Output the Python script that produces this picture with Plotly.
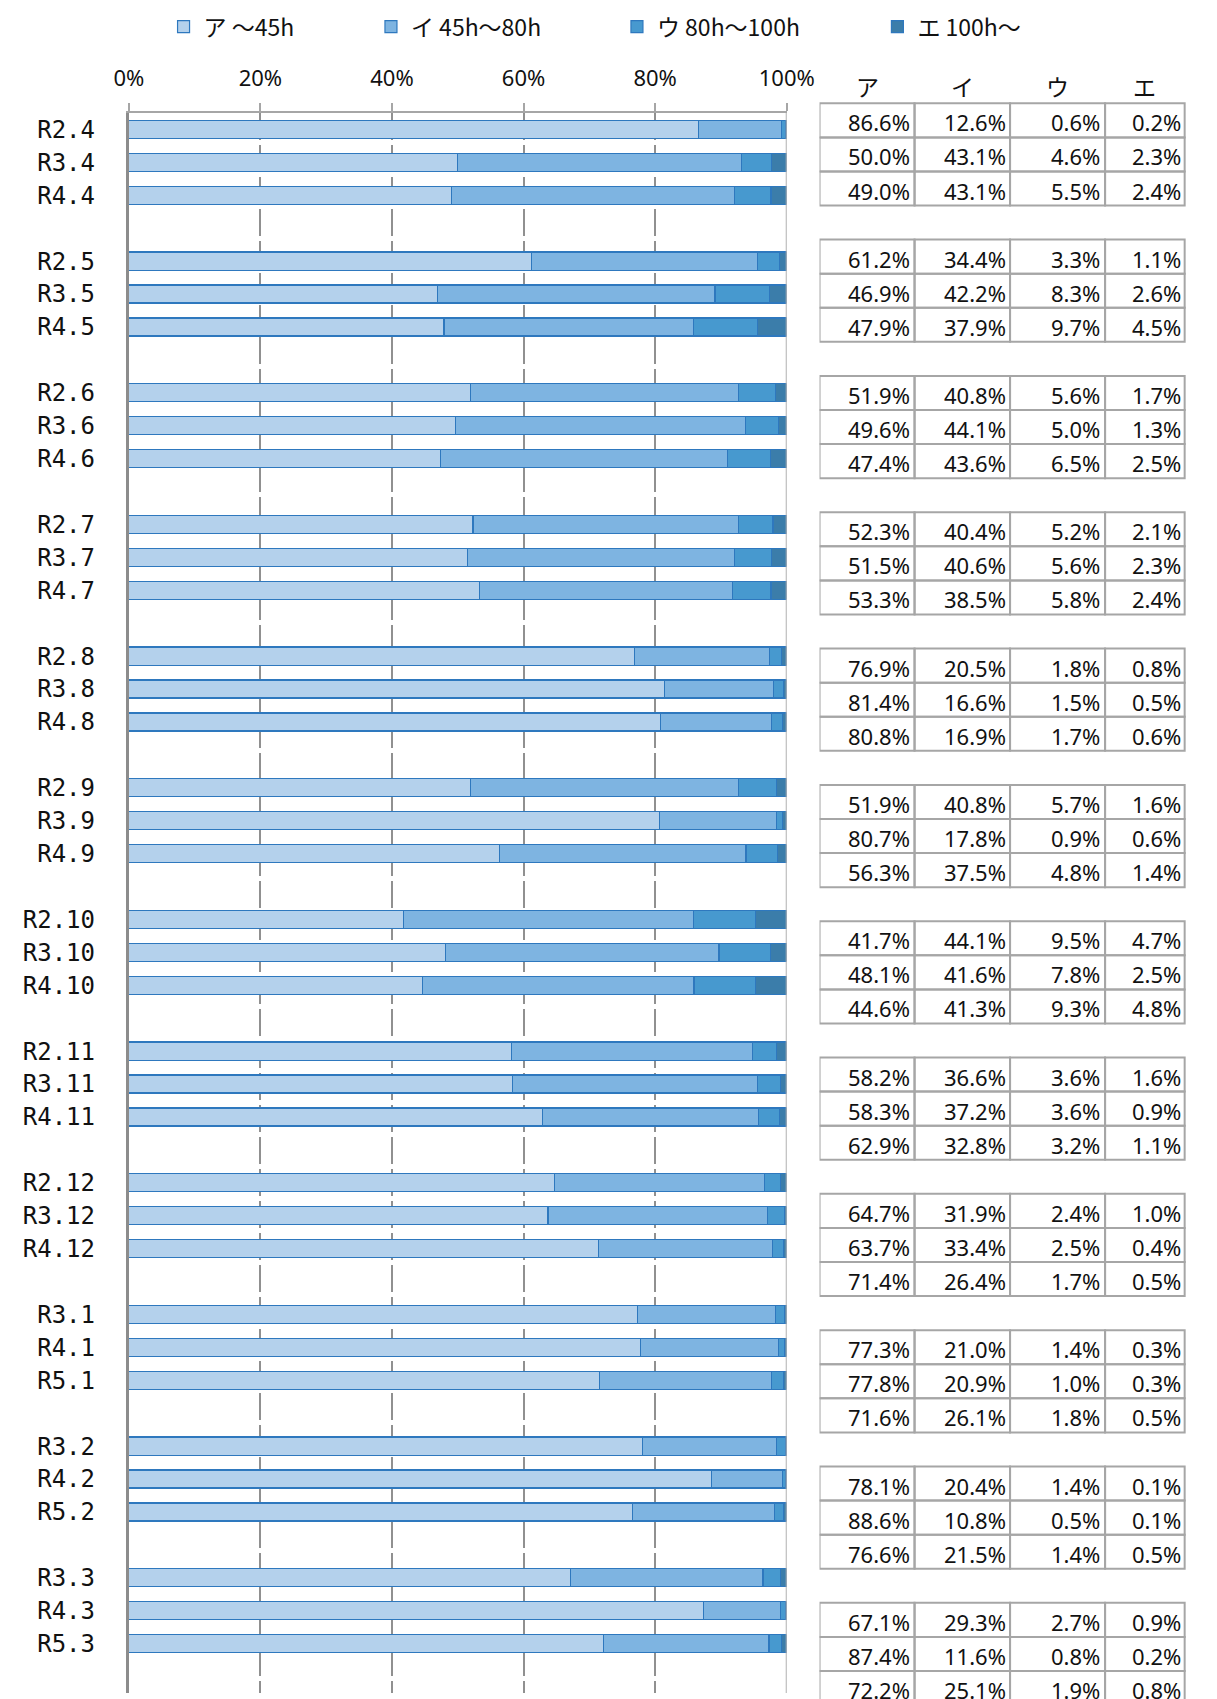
import plotly.graph_objects as go

# ---------------- data ----------------
categories = [
    "R2.4", "R3.4", "R4.4",
    "R2.5", "R3.5", "R4.5",
    "R2.6", "R3.6", "R4.6",
    "R2.7", "R3.7", "R4.7",
    "R2.8", "R3.8", "R4.8",
    "R2.9", "R3.9", "R4.9",
    "R2.10", "R3.10", "R4.10",
    "R2.11", "R3.11", "R4.11",
    "R2.12", "R3.12", "R4.12",
    "R3.1", "R4.1", "R5.1",
    "R3.2", "R4.2", "R5.2",
    "R3.3", "R4.3", "R5.3",
]
a_vals = [86.6, 50.0, 49.0, 61.2, 46.9, 47.9, 51.9, 49.6, 47.4, 52.3, 51.5, 53.3,
          76.9, 81.4, 80.8, 51.9, 80.7, 56.3, 41.7, 48.1, 44.6, 58.2, 58.3, 62.9,
          64.7, 63.7, 71.4, 77.3, 77.8, 71.6, 78.1, 88.6, 76.6, 67.1, 87.4, 72.2]
i_vals = [12.6, 43.1, 43.1, 34.4, 42.2, 37.9, 40.8, 44.1, 43.6, 40.4, 40.6, 38.5,
          20.5, 16.6, 16.9, 40.8, 17.8, 37.5, 44.1, 41.6, 41.3, 36.6, 37.2, 32.8,
          31.9, 33.4, 26.4, 21.0, 20.9, 26.1, 20.4, 10.8, 21.5, 29.3, 11.6, 25.1]
u_vals = [0.6, 4.6, 5.5, 3.3, 8.3, 9.7, 5.6, 5.0, 6.5, 5.2, 5.6, 5.8,
          1.8, 1.5, 1.7, 5.7, 0.9, 4.8, 9.5, 7.8, 9.3, 3.6, 3.6, 3.2,
          2.4, 2.5, 1.7, 1.4, 1.0, 1.8, 1.4, 0.5, 1.4, 2.7, 0.8, 1.9]
e_vals = [0.2, 2.3, 2.4, 1.1, 2.6, 4.5, 1.7, 1.3, 2.5, 2.1, 2.3, 2.4,
          0.8, 0.5, 0.6, 1.6, 0.6, 1.4, 4.7, 2.5, 4.8, 1.6, 0.9, 1.1,
          1.0, 0.4, 0.5, 0.3, 0.3, 0.5, 0.1, 0.1, 0.5, 0.9, 0.2, 0.8]
series_names = ["ア ～45h", "イ 45h～80h", "ウ 80h～100h", "エ 100h～"]
table_headers = ["ア", "イ", "ウ", "エ"]
x_ticks = [0, 20, 40, 60, 80, 100]
x_tick_text = ["0%", "20%", "40%", "60%", "80%", "100%"]

# ---------------- style ----------------
W, H = 1217, 1699
colors = ["#B4D1EC", "#7EB4E1", "#4799CF", "#3B7DAA"]
edge_color = "#2E78BE"
group_size = 3
slots_per_group = 4
n_slots = (len(categories) // group_size) * slots_per_group - 1

positions = [(k // group_size) * slots_per_group + k % group_size for k in range(len(categories))]

# bar plot area (pixels)
px_left, px_right = 118, 800
px_top, px_bottom = 113, 1693
# table area
tbl_left = 834
tbl_row_top = 103.3
tbl_row_h = 34.08
col_edges = [0, 98.5, 197.5, 296, 378.5]
text_right = [96, 195, 293, 377]

fig = go.Figure()
all_vals = [a_vals, i_vals, u_vals, e_vals]
legend_ids = ["legend", "legend2", "legend3", "legend4"]
for name, vals, col, lg in zip(series_names, all_vals, colors, legend_ids):
    fig.add_trace(go.Bar(
        y=positions, x=vals, orientation="h", name=name,
        marker=dict(color=col, line=dict(color=edge_color, width=1.2)),
        width=0.55, legend=lg, xaxis="x", yaxis="y",
    ))

# table cells
shapes = []
annotations = []
for k, p in enumerate(positions):
    row = [a_vals[k], i_vals[k], u_vals[k], e_vals[k]]
    for c in range(4):
        shapes.append(dict(type="rect", xref="x2", yref="y2",
                           x0=col_edges[c], x1=col_edges[c + 1], y0=p - 0.5, y1=p + 0.5,
                           line=dict(color="#A6A6A6", width=2), layer="above"))
        annotations.append(dict(xref="x2", yref="y2", x=text_right[c], y=p,
                                text=f"{row[c]:.1f}%", showarrow=False,
                                xanchor="right", yanchor="middle", yshift=-2,
                                font=dict(family="Noto Sans", size=22, color="#111111")))
hdr_y = -0.5 + (86 - tbl_row_top) / tbl_row_h
for c, h in enumerate(table_headers):
    annotations.append(dict(xref="x2", yref="y2", x=(col_edges[c] + col_edges[c + 1]) / 2, y=hdr_y,
                            text=h, showarrow=False, xanchor="center", yanchor="middle",
                            font=dict(family="Noto Sans CJK JP", size=23, color="#111111")))

# 100% solid line
shapes.append(dict(type="line", xref="x", yref="y domain", x0=100, x1=100, y0=0, y1=1,
                   line=dict(color="#B0B0B0", width=2)))

y2_top = -0.5 - tbl_row_top / tbl_row_h
y2_bottom = -0.5 + (H - tbl_row_top) / tbl_row_h

legend_x_px = [154, 369, 624, 894]
legend_common = dict(orientation="h", yanchor="middle", y=1 - 26.7 / H, xanchor="left",
                     bgcolor="rgba(0,0,0,0)",
                     font=dict(family="Noto Sans CJK JP", size=23, color="#111111"))

fig.update_layout(
    width=W, height=H,
    margin=dict(l=0, r=0, t=0, b=0),
    paper_bgcolor="white", plot_bgcolor="white",
    barmode="stack", barnorm="percent",
    showlegend=True,
    legend=dict(x=legend_x_px[0] / W, **legend_common),
    legend2=dict(x=legend_x_px[1] / W, **legend_common),
    legend3=dict(x=legend_x_px[2] / W, **legend_common),
    legend4=dict(x=legend_x_px[3] / W, **legend_common),
    xaxis=dict(domain=[px_left / W, px_right / W], range=[0, 100], side="top",
               tickmode="array", tickvals=x_ticks, ticktext=x_tick_text,
               showgrid=True, gridcolor="#909090",
               gridwidth=1.5, griddash="27px,5px", zeroline=False,
               showline=True, linecolor="#A6A6A6", linewidth=2,
               ticks="outside", ticklen=8, tickcolor="#A6A6A6", tickwidth=2,
               ticklabelstandoff=8,
               tickfont=dict(family="Noto Sans", size=22, color="#111111"),
               fixedrange=True),
    yaxis=dict(domain=[1 - px_bottom / H, 1 - px_top / H], range=[n_slots + 0.5, -0.5],
               tickmode="array", tickvals=positions, ticktext=categories,
               showgrid=False, zeroline=False,
               showline=True, linecolor="#8C8C8C", linewidth=3, ticks="",
               ticklabelstandoff=26,
               tickfont=dict(family="DejaVu Sans Mono", size=24, color="#111111"),
               fixedrange=True),
    xaxis2=dict(domain=[tbl_left / W, 1], range=[0, W - tbl_left], visible=False,
                anchor="y2", fixedrange=True),
    yaxis2=dict(domain=[0, 1], range=[y2_bottom, y2_top], visible=False,
                anchor="x2", fixedrange=True),
    shapes=shapes,
    annotations=annotations,
)

fig.write_html("out.html", config={"displayModeBar": False},
               post_script="document.body.style.margin='0px';document.body.style.overflow='hidden';")
